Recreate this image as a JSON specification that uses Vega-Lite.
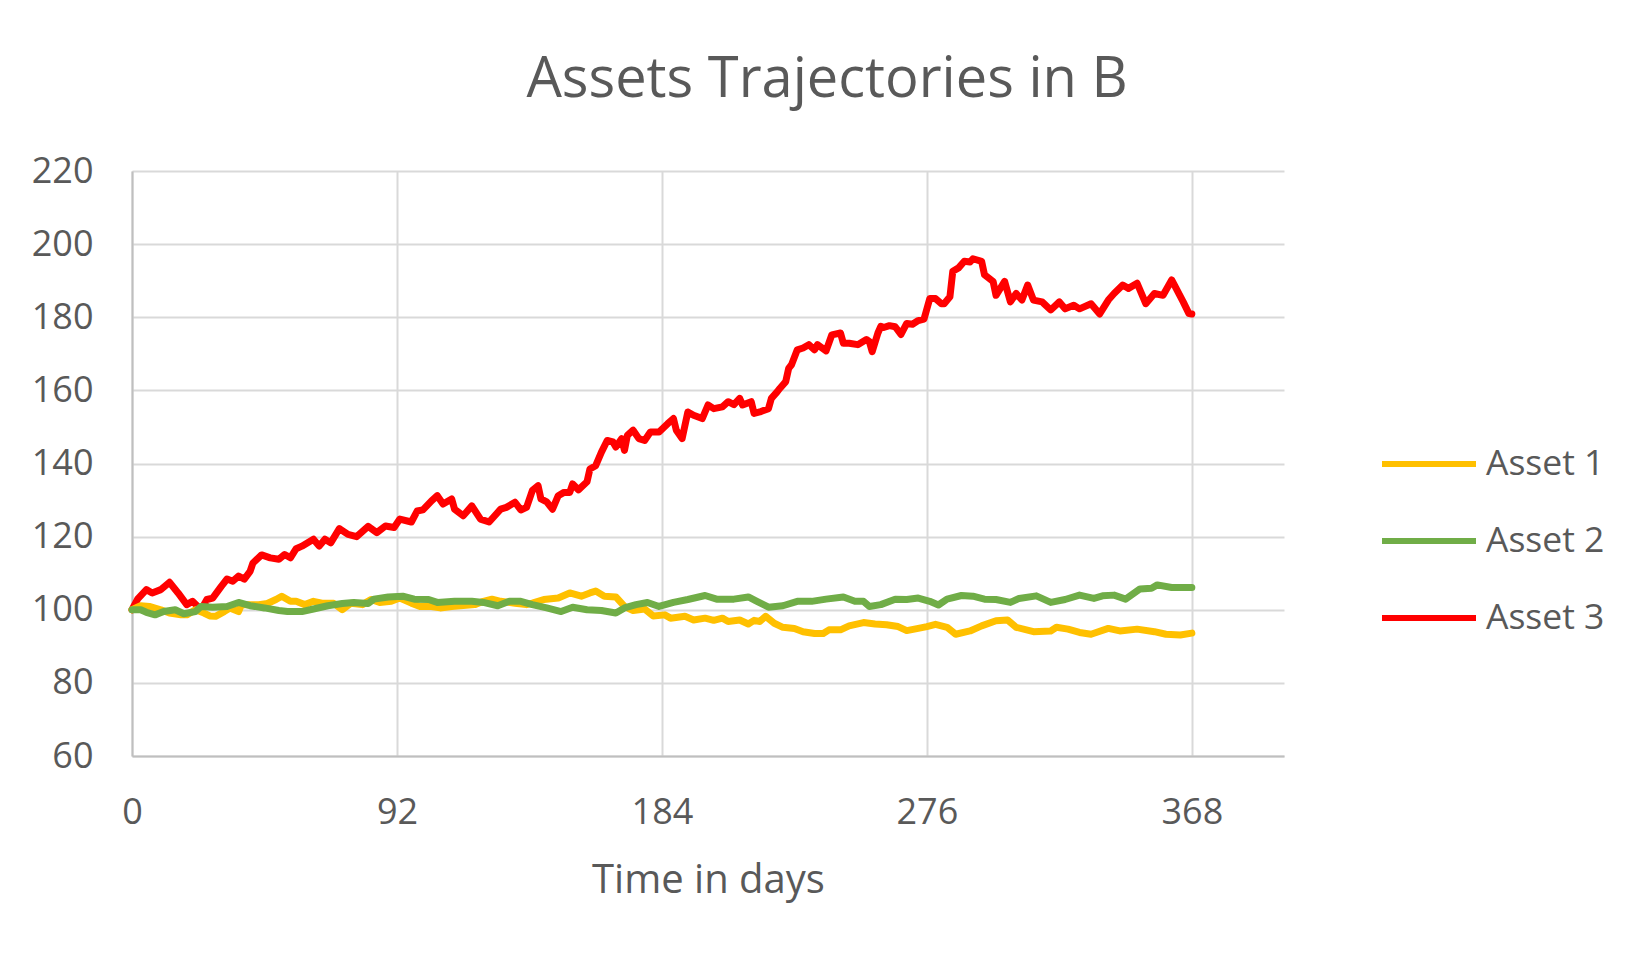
{
"$schema": "https://vega.github.io/schema/vega-lite/v6.json",
"width": 1152,
"height": 585,
"autosize": {"type": "none"},
"padding": {"left": 132, "top": 171, "right": 368, "bottom": 206},
"background": "white",
"config": {"view": {"stroke": null}, "font": "Open Sans"},
"title": {"text": "Assets Trajectories in B", "fontSize": 56, "font": "Open Sans", "fontWeight": "normal", "color": "#595959", "anchor": "middle", "frame": "group", "dx": 119, "baseline": "alphabetic", "offset": 0},
"data": {"values": [
{"d":0,"s":"Asset 3","v":100},{"d":2,"s":"Asset 3","v":103},{"d":5,"s":"Asset 3","v":105.5},{"d":7,"s":"Asset 3","v":104.6},{"d":10,"s":"Asset 3","v":105.5},{"d":13,"s":"Asset 3","v":107.5},{"d":16,"s":"Asset 3","v":104.6},{"d":19,"s":"Asset 3","v":101.4},{"d":21,"s":"Asset 3","v":102.3},{"d":24,"s":"Asset 3","v":100},{"d":26,"s":"Asset 3","v":102.8},{"d":28,"s":"Asset 3","v":103.2},{"d":31,"s":"Asset 3","v":106.4},{"d":33,"s":"Asset 3","v":108.4},{"d":35,"s":"Asset 3","v":107.8},{"d":37,"s":"Asset 3","v":109.2},{"d":39,"s":"Asset 3","v":108.4},{"d":41,"s":"Asset 3","v":110.5},{"d":42,"s":"Asset 3","v":112.8},{"d":45,"s":"Asset 3","v":115},{"d":48,"s":"Asset 3","v":114.2},{"d":51,"s":"Asset 3","v":113.8},{"d":53,"s":"Asset 3","v":115.1},{"d":55,"s":"Asset 3","v":114.2},{"d":57,"s":"Asset 3","v":116.7},{"d":59,"s":"Asset 3","v":117.4},{"d":63,"s":"Asset 3","v":119.3},{"d":65,"s":"Asset 3","v":117.4},{"d":67,"s":"Asset 3","v":119.3},{"d":69,"s":"Asset 3","v":118.3},{"d":72,"s":"Asset 3","v":122.2},{"d":75,"s":"Asset 3","v":120.6},{"d":78,"s":"Asset 3","v":120},{"d":82,"s":"Asset 3","v":122.8},{"d":85,"s":"Asset 3","v":121.1},{"d":88,"s":"Asset 3","v":122.9},{"d":91,"s":"Asset 3","v":122.5},{"d":93,"s":"Asset 3","v":124.8},{"d":97,"s":"Asset 3","v":124},{"d":99,"s":"Asset 3","v":127},{"d":101,"s":"Asset 3","v":127.3},{"d":104,"s":"Asset 3","v":129.8},{"d":106,"s":"Asset 3","v":131.2},{"d":108,"s":"Asset 3","v":128.9},{"d":111,"s":"Asset 3","v":130.3},{"d":112,"s":"Asset 3","v":127.5},{"d":115,"s":"Asset 3","v":125.7},{"d":118,"s":"Asset 3","v":128.4},{"d":121,"s":"Asset 3","v":124.8},{"d":124,"s":"Asset 3","v":124},{"d":128,"s":"Asset 3","v":127.5},{"d":130,"s":"Asset 3","v":128},{"d":133,"s":"Asset 3","v":129.4},{"d":135,"s":"Asset 3","v":127.3},{"d":137,"s":"Asset 3","v":128},{"d":139,"s":"Asset 3","v":132.6},{"d":141,"s":"Asset 3","v":133.9},{"d":142,"s":"Asset 3","v":130.3},{"d":144,"s":"Asset 3","v":129.5},{"d":146,"s":"Asset 3","v":127.5},{"d":148,"s":"Asset 3","v":131.2},{"d":150,"s":"Asset 3","v":132.1},{"d":152,"s":"Asset 3","v":132.1},{"d":153,"s":"Asset 3","v":134.4},{"d":155,"s":"Asset 3","v":132.8},{"d":158,"s":"Asset 3","v":135},{"d":159,"s":"Asset 3","v":138.5},{"d":161,"s":"Asset 3","v":139.4},{"d":163,"s":"Asset 3","v":143.1},{"d":165,"s":"Asset 3","v":146.3},{"d":167,"s":"Asset 3","v":145.9},{"d":168,"s":"Asset 3","v":144.5},{"d":170,"s":"Asset 3","v":146.8},{"d":171,"s":"Asset 3","v":143.6},{"d":172,"s":"Asset 3","v":147.7},{"d":174,"s":"Asset 3","v":149.1},{"d":176,"s":"Asset 3","v":146.8},{"d":178,"s":"Asset 3","v":146.3},{"d":180,"s":"Asset 3","v":148.6},{"d":183,"s":"Asset 3","v":148.6},{"d":186,"s":"Asset 3","v":150.9},{"d":188,"s":"Asset 3","v":152.3},{"d":189,"s":"Asset 3","v":149.1},{"d":191,"s":"Asset 3","v":146.8},{"d":193,"s":"Asset 3","v":154.1},{"d":195,"s":"Asset 3","v":153.2},{"d":198,"s":"Asset 3","v":152.3},{"d":200,"s":"Asset 3","v":156},{"d":202,"s":"Asset 3","v":155},{"d":205,"s":"Asset 3","v":155.5},{"d":207,"s":"Asset 3","v":156.9},{"d":209,"s":"Asset 3","v":156.1},{"d":211,"s":"Asset 3","v":157.8},{"d":212,"s":"Asset 3","v":156},{"d":215,"s":"Asset 3","v":156.9},{"d":216,"s":"Asset 3","v":153.7},{"d":218,"s":"Asset 3","v":154.1},{"d":221,"s":"Asset 3","v":155},{"d":222,"s":"Asset 3","v":157.8},{"d":224,"s":"Asset 3","v":159.6},{"d":225,"s":"Asset 3","v":160.6},{"d":227,"s":"Asset 3","v":162.4},{"d":228,"s":"Asset 3","v":166},{"d":229,"s":"Asset 3","v":167},{"d":231,"s":"Asset 3","v":171.1},{"d":233,"s":"Asset 3","v":171.6},{"d":235,"s":"Asset 3","v":172.5},{"d":237,"s":"Asset 3","v":171.1},{"d":238,"s":"Asset 3","v":172.5},{"d":241,"s":"Asset 3","v":170.8},{"d":243,"s":"Asset 3","v":175.2},{"d":246,"s":"Asset 3","v":175.7},{"d":247,"s":"Asset 3","v":172.9},{"d":249,"s":"Asset 3","v":172.9},{"d":252,"s":"Asset 3","v":172.5},{"d":255,"s":"Asset 3","v":173.9},{"d":256,"s":"Asset 3","v":173.4},{"d":257,"s":"Asset 3","v":170.6},{"d":259,"s":"Asset 3","v":175.7},{"d":260,"s":"Asset 3","v":177.5},{"d":261,"s":"Asset 3","v":177.2},{"d":263,"s":"Asset 3","v":177.7},{"d":265,"s":"Asset 3","v":177.4},{"d":267,"s":"Asset 3","v":175.3},{"d":269,"s":"Asset 3","v":178.3},{"d":271,"s":"Asset 3","v":178.1},{"d":273,"s":"Asset 3","v":179.1},{"d":275,"s":"Asset 3","v":179.5},{"d":276,"s":"Asset 3","v":182.3},{"d":277,"s":"Asset 3","v":185.1},{"d":279,"s":"Asset 3","v":185.1},{"d":281,"s":"Asset 3","v":183.7},{"d":282,"s":"Asset 3","v":183.7},{"d":284,"s":"Asset 3","v":185.6},{"d":285,"s":"Asset 3","v":192.6},{"d":287,"s":"Asset 3","v":193.5},{"d":289,"s":"Asset 3","v":195.3},{"d":291,"s":"Asset 3","v":195.1},{"d":292,"s":"Asset 3","v":196},{"d":295,"s":"Asset 3","v":195.3},{"d":296,"s":"Asset 3","v":191.6},{"d":299,"s":"Asset 3","v":189.8},{"d":300,"s":"Asset 3","v":186},{"d":303,"s":"Asset 3","v":189.8},{"d":305,"s":"Asset 3","v":184.2},{"d":307,"s":"Asset 3","v":186.5},{"d":309,"s":"Asset 3","v":184.7},{"d":311,"s":"Asset 3","v":188.8},{"d":313,"s":"Asset 3","v":184.7},{"d":316,"s":"Asset 3","v":184.2},{"d":319,"s":"Asset 3","v":182},{"d":322,"s":"Asset 3","v":184.2},{"d":324,"s":"Asset 3","v":182.3},{"d":327,"s":"Asset 3","v":183.3},{"d":329,"s":"Asset 3","v":182.3},{"d":333,"s":"Asset 3","v":183.7},{"d":336,"s":"Asset 3","v":180.9},{"d":339,"s":"Asset 3","v":184.7},{"d":341,"s":"Asset 3","v":186.5},{"d":344,"s":"Asset 3","v":188.8},{"d":346,"s":"Asset 3","v":187.9},{"d":349,"s":"Asset 3","v":189.3},{"d":352,"s":"Asset 3","v":183.7},{"d":355,"s":"Asset 3","v":186.5},{"d":358,"s":"Asset 3","v":186},{"d":361,"s":"Asset 3","v":190.2},{"d":365,"s":"Asset 3","v":184.2},{"d":367,"s":"Asset 3","v":181},{"d":368,"s":"Asset 3","v":180.9},
{"d":0,"s":"Asset 1","v":100},{"d":3,"s":"Asset 1","v":101.1},{"d":6,"s":"Asset 1","v":100.9},{"d":10,"s":"Asset 1","v":100},{"d":13,"s":"Asset 1","v":99.1},{"d":17,"s":"Asset 1","v":98.6},{"d":19,"s":"Asset 1","v":98.6},{"d":22,"s":"Asset 1","v":100},{"d":25,"s":"Asset 1","v":99.1},{"d":27,"s":"Asset 1","v":98.3},{"d":29,"s":"Asset 1","v":98.2},{"d":32,"s":"Asset 1","v":99.5},{"d":34,"s":"Asset 1","v":100.5},{"d":37,"s":"Asset 1","v":99.5},{"d":38,"s":"Asset 1","v":101.4},{"d":41,"s":"Asset 1","v":101.4},{"d":44,"s":"Asset 1","v":101.4},{"d":47,"s":"Asset 1","v":101.7},{"d":50,"s":"Asset 1","v":102.8},{"d":52,"s":"Asset 1","v":103.7},{"d":55,"s":"Asset 1","v":102.3},{"d":57,"s":"Asset 1","v":102.3},{"d":60,"s":"Asset 1","v":101.4},{"d":63,"s":"Asset 1","v":102.3},{"d":66,"s":"Asset 1","v":101.8},{"d":70,"s":"Asset 1","v":101.8},{"d":73,"s":"Asset 1","v":100},{"d":76,"s":"Asset 1","v":101.8},{"d":80,"s":"Asset 1","v":101.4},{"d":83,"s":"Asset 1","v":102.8},{"d":86,"s":"Asset 1","v":102},{"d":90,"s":"Asset 1","v":102.3},{"d":93,"s":"Asset 1","v":103.2},{"d":97,"s":"Asset 1","v":101.8},{"d":100,"s":"Asset 1","v":100.9},{"d":104,"s":"Asset 1","v":100.9},{"d":107,"s":"Asset 1","v":100.5},{"d":111,"s":"Asset 1","v":100.9},{"d":114,"s":"Asset 1","v":101.1},{"d":119,"s":"Asset 1","v":101.4},{"d":122,"s":"Asset 1","v":102.3},{"d":125,"s":"Asset 1","v":102.9},{"d":128,"s":"Asset 1","v":102.3},{"d":133,"s":"Asset 1","v":101.8},{"d":137,"s":"Asset 1","v":101.4},{"d":139,"s":"Asset 1","v":101.8},{"d":143,"s":"Asset 1","v":102.8},{"d":148,"s":"Asset 1","v":103.2},{"d":152,"s":"Asset 1","v":104.6},{"d":156,"s":"Asset 1","v":103.7},{"d":159,"s":"Asset 1","v":104.6},{"d":161,"s":"Asset 1","v":105.1},{"d":164,"s":"Asset 1","v":103.7},{"d":168,"s":"Asset 1","v":103.5},{"d":171,"s":"Asset 1","v":100.9},{"d":174,"s":"Asset 1","v":99.8},{"d":178,"s":"Asset 1","v":100.2},{"d":181,"s":"Asset 1","v":98.3},{"d":185,"s":"Asset 1","v":98.6},{"d":187,"s":"Asset 1","v":97.7},{"d":192,"s":"Asset 1","v":98.2},{"d":195,"s":"Asset 1","v":97.2},{"d":199,"s":"Asset 1","v":97.7},{"d":202,"s":"Asset 1","v":97.1},{"d":205,"s":"Asset 1","v":97.7},{"d":207,"s":"Asset 1","v":96.8},{"d":211,"s":"Asset 1","v":97.2},{"d":214,"s":"Asset 1","v":96.1},{"d":216,"s":"Asset 1","v":97.1},{"d":218,"s":"Asset 1","v":96.8},{"d":220,"s":"Asset 1","v":98.2},{"d":223,"s":"Asset 1","v":96.3},{"d":226,"s":"Asset 1","v":95.2},{"d":230,"s":"Asset 1","v":94.9},{"d":233,"s":"Asset 1","v":94},{"d":237,"s":"Asset 1","v":93.5},{"d":240,"s":"Asset 1","v":93.5},{"d":242,"s":"Asset 1","v":94.5},{"d":246,"s":"Asset 1","v":94.5},{"d":249,"s":"Asset 1","v":95.6},{"d":254,"s":"Asset 1","v":96.5},{"d":258,"s":"Asset 1","v":96.1},{"d":262,"s":"Asset 1","v":95.9},{"d":266,"s":"Asset 1","v":95.4},{"d":269,"s":"Asset 1","v":94.3},{"d":273,"s":"Asset 1","v":94.9},{"d":276,"s":"Asset 1","v":95.4},{"d":279,"s":"Asset 1","v":96},{"d":283,"s":"Asset 1","v":95.2},{"d":286,"s":"Asset 1","v":93.3},{"d":291,"s":"Asset 1","v":94.2},{"d":295,"s":"Asset 1","v":95.6},{"d":300,"s":"Asset 1","v":97},{"d":304,"s":"Asset 1","v":97.2},{"d":307,"s":"Asset 1","v":95.2},{"d":313,"s":"Asset 1","v":94},{"d":319,"s":"Asset 1","v":94.2},{"d":321,"s":"Asset 1","v":95.2},{"d":325,"s":"Asset 1","v":94.7},{"d":329,"s":"Asset 1","v":93.8},{"d":333,"s":"Asset 1","v":93.3},{"d":339,"s":"Asset 1","v":94.9},{"d":343,"s":"Asset 1","v":94.2},{"d":349,"s":"Asset 1","v":94.7},{"d":355,"s":"Asset 1","v":94},{"d":359,"s":"Asset 1","v":93.3},{"d":364,"s":"Asset 1","v":93.1},{"d":368,"s":"Asset 1","v":93.6},
{"d":0,"s":"Asset 2","v":100},{"d":3,"s":"Asset 2","v":100},{"d":5,"s":"Asset 2","v":99.3},{"d":8,"s":"Asset 2","v":98.6},{"d":11,"s":"Asset 2","v":99.5},{"d":15,"s":"Asset 2","v":100},{"d":18,"s":"Asset 2","v":98.9},{"d":22,"s":"Asset 2","v":99.5},{"d":24,"s":"Asset 2","v":100.9},{"d":28,"s":"Asset 2","v":100.7},{"d":33,"s":"Asset 2","v":100.9},{"d":37,"s":"Asset 2","v":102},{"d":41,"s":"Asset 2","v":101.1},{"d":46,"s":"Asset 2","v":100.5},{"d":51,"s":"Asset 2","v":99.8},{"d":54,"s":"Asset 2","v":99.5},{"d":59,"s":"Asset 2","v":99.5},{"d":63,"s":"Asset 2","v":100.2},{"d":68,"s":"Asset 2","v":101.1},{"d":73,"s":"Asset 2","v":101.7},{"d":77,"s":"Asset 2","v":102},{"d":82,"s":"Asset 2","v":101.7},{"d":84,"s":"Asset 2","v":102.9},{"d":89,"s":"Asset 2","v":103.5},{"d":94,"s":"Asset 2","v":103.7},{"d":98,"s":"Asset 2","v":102.9},{"d":103,"s":"Asset 2","v":102.8},{"d":106,"s":"Asset 2","v":102},{"d":112,"s":"Asset 2","v":102.3},{"d":118,"s":"Asset 2","v":102.3},{"d":122,"s":"Asset 2","v":102},{"d":127,"s":"Asset 2","v":101.1},{"d":131,"s":"Asset 2","v":102.3},{"d":135,"s":"Asset 2","v":102.3},{"d":139,"s":"Asset 2","v":101.4},{"d":144,"s":"Asset 2","v":100.5},{"d":149,"s":"Asset 2","v":99.5},{"d":153,"s":"Asset 2","v":100.7},{"d":158,"s":"Asset 2","v":100},{"d":163,"s":"Asset 2","v":99.8},{"d":168,"s":"Asset 2","v":99.1},{"d":171,"s":"Asset 2","v":100.5},{"d":175,"s":"Asset 2","v":101.4},{"d":179,"s":"Asset 2","v":102},{"d":183,"s":"Asset 2","v":100.9},{"d":188,"s":"Asset 2","v":102},{"d":193,"s":"Asset 2","v":102.8},{"d":199,"s":"Asset 2","v":103.9},{"d":203,"s":"Asset 2","v":102.9},{"d":209,"s":"Asset 2","v":102.9},{"d":214,"s":"Asset 2","v":103.5},{"d":217,"s":"Asset 2","v":102.3},{"d":221,"s":"Asset 2","v":100.7},{"d":226,"s":"Asset 2","v":101.1},{"d":231,"s":"Asset 2","v":102.3},{"d":236,"s":"Asset 2","v":102.3},{"d":241,"s":"Asset 2","v":102.9},{"d":247,"s":"Asset 2","v":103.5},{"d":251,"s":"Asset 2","v":102.3},{"d":254,"s":"Asset 2","v":102.3},{"d":256,"s":"Asset 2","v":100.9},{"d":260,"s":"Asset 2","v":101.4},{"d":265,"s":"Asset 2","v":102.9},{"d":269,"s":"Asset 2","v":102.8},{"d":273,"s":"Asset 2","v":103.2},{"d":277,"s":"Asset 2","v":102.3},{"d":280,"s":"Asset 2","v":101.3},{"d":283,"s":"Asset 2","v":102.9},{"d":288,"s":"Asset 2","v":103.9},{"d":292,"s":"Asset 2","v":103.7},{"d":296,"s":"Asset 2","v":102.9},{"d":300,"s":"Asset 2","v":102.8},{"d":305,"s":"Asset 2","v":102},{"d":308,"s":"Asset 2","v":103.1},{"d":314,"s":"Asset 2","v":103.8},{"d":319,"s":"Asset 2","v":102},{"d":324,"s":"Asset 2","v":102.8},{"d":329,"s":"Asset 2","v":104},{"d":334,"s":"Asset 2","v":103.1},{"d":337,"s":"Asset 2","v":103.8},{"d":341,"s":"Asset 2","v":104},{"d":345,"s":"Asset 2","v":102.9},{"d":350,"s":"Asset 2","v":105.7},{"d":354,"s":"Asset 2","v":105.9},{"d":356,"s":"Asset 2","v":106.8},{"d":361,"s":"Asset 2","v":106.1},{"d":365,"s":"Asset 2","v":106.1},{"d":368,"s":"Asset 2","v":106.1}
]},
"mark": {"type": "line", "strokeWidth": 7, "strokeCap": "round", "strokeJoin": "round"},
"encoding": {
"x": {"field": "d", "type": "quantitative", "scale": {"domain": [0, 400], "nice": false, "zero": false},
"axis": {"values": [0, 92, 184, 276, 368], "title": "Time in days", "grid": true, "gridColor": "#d9d9d9", "gridWidth": 2, "domainColor": "#bfbfbf", "domainWidth": 2, "ticks": false, "tickSize": 0, "labelFlush": false, "labelFontSize": 36, "labelFont": "Open Sans", "labelColor": "#595959", "labelBaseline": "alphabetic", "labelPadding": 67, "titleFontSize": 40, "titleFont": "Open Sans", "titleFontWeight": "normal", "titleColor": "#595959", "titleBaseline": "alphabetic", "titleY": 136}},
"y": {"field": "v", "type": "quantitative", "scale": {"domain": [60, 220], "nice": false, "zero": false},
"axis": {"values": [60, 80, 100, 120, 140, 160, 180, 200, 220], "title": null, "grid": true, "gridColor": "#d9d9d9", "gridWidth": 2, "domainColor": "#bfbfbf", "domainWidth": 2, "ticks": false, "tickSize": 0, "labelFlush": false, "labelFontSize": 36, "labelFont": "Open Sans", "labelColor": "#595959", "labelPadding": 39}},
"color": {"field": "s", "type": "nominal", "scale": {"domain": ["Asset 1", "Asset 2", "Asset 3"], "range": ["#FFC000", "#70AD47", "#FF0000"]},
"legend": {"title": null, "orient": "none", "legendX": 1247, "legendY": 273, "padding": 0, "symbolType": "stroke", "symbolSize": 8836, "symbolStrokeWidth": 6, "labelFontSize": 35.5, "labelFont": "Open Sans", "labelColor": "#595959", "labelOffset": 7, "clipHeight": 40, "rowPadding": 37}}
}
}
